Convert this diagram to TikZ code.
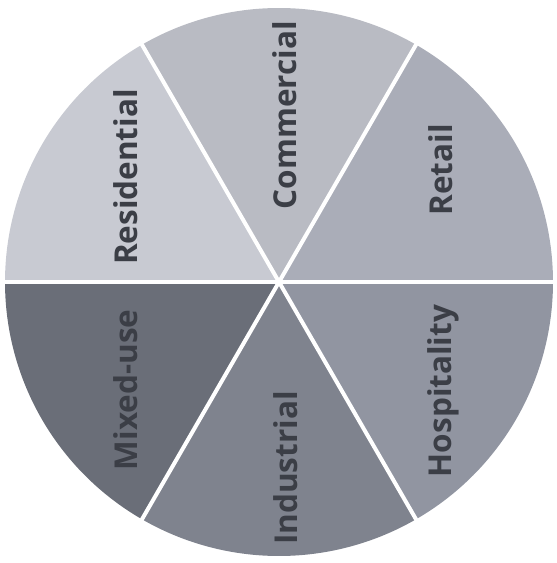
\documentclass[tikz,border=0pt]{standalone}
\usepackage{fontspec}
\setmainfont{Open Sans}
\usepackage{tikz}

\definecolor{resgray}{HTML}{C8CAD2}
\definecolor{comgray}{HTML}{B9BBC3}
\definecolor{retgray}{HTML}{AAADB8}
\definecolor{hosgray}{HTML}{9195A1}
\definecolor{indgray}{HTML}{7F838E}
\definecolor{mixgray}{HTML}{6A6E78}
\definecolor{labelgray}{HTML}{3B3E46}

\begin{document}
\begin{tikzpicture}[x=1pt, y=1pt,
    sector label/.style={rotate=90, text=labelgray, inner sep=0pt,
      font=\fontsize{31.5}{38}\selectfont\bfseries}]
  \useasboundingbox (0,0) rectangle (557,563);
  \coordinate (O) at (279,281);
  % six equal sectors, starting at the right and going round
  \fill[retgray] (O) -- +(0:274) arc (0:60:274) -- cycle;
  \fill[comgray] (O) -- +(60:274) arc (60:120:274) -- cycle;
  \fill[resgray] (O) -- +(120:274) arc (120:180:274) -- cycle;
  \fill[mixgray] (O) -- +(180:274) arc (180:240:274) -- cycle;
  \fill[indgray] (O) -- +(240:274) arc (240:300:274) -- cycle;
  \fill[hosgray] (O) -- +(300:274) arc (300:360:274) -- cycle;
  % white separators
  \draw[white, line width=4pt] (O) -- +(0:276) (O) -- +(180:276);
  \draw[white, line width=4pt] (O) -- +(60:276) (O) -- +(240:276);
  \draw[white, line width=4pt] (O) -- +(120:276) (O) -- +(300:276);
  % labels
  \node[sector label] (res) at (126,386) {Residential};
  \node[sector label] (com) at (285,448) {Commercial};
  \node[sector label] (ret) at (441,393) {Retail};
  \node[sector label] (mix) at (126,173) {Mixed-use};
  \node[sector label] (ind) at (286,95) {Industrial};
  \node[sector label] (hos) at (443,172) {Hospitality};
\end{tikzpicture}
\end{document}
